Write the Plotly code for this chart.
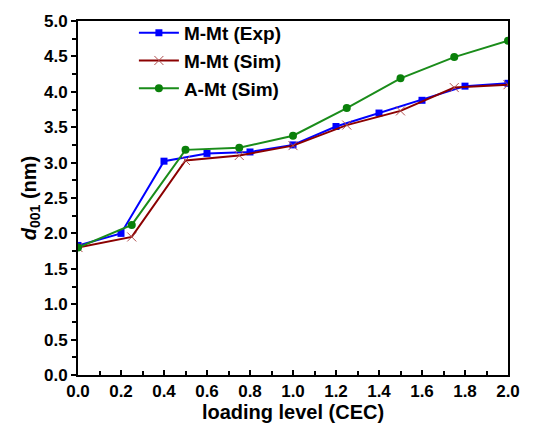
import plotly.graph_objects as go

x_exp = [0.0, 0.2, 0.4, 0.6, 0.8, 1.0, 1.2, 1.4, 1.6, 1.8, 2.0]
y_exp = [1.83, 2.0, 3.02, 3.13, 3.15, 3.25, 3.51, 3.70, 3.88, 4.08, 4.12]

x_sim = [0.0, 0.25, 0.5, 0.75, 1.0, 1.25, 1.5, 1.75, 2.0]
y_mmt_sim = [1.80, 1.95, 3.03, 3.10, 3.24, 3.53, 3.73, 4.06, 4.10]
y_amt_sim = [1.80, 2.12, 3.18, 3.21, 3.38, 3.77, 4.19, 4.49, 4.72]

names = ["M-Mt (Exp)", "M-Mt (Sim)", "A-Mt (Sim)"]
xticks = [0.0, 0.2, 0.4, 0.6, 0.8, 1.0, 1.2, 1.4, 1.6, 1.8, 2.0]
yticks = [0.0, 0.5, 1.0, 1.5, 2.0, 2.5, 3.0, 3.5, 4.0, 4.5, 5.0]

fig = go.Figure()
fig.add_trace(go.Scatter(x=x_exp, y=y_exp, name=f"<b>{names[0]}</b>", mode="lines+markers",
                         line=dict(color="#0000ff", width=2),
                         marker=dict(symbol="square", size=7, color="#0000ff")))
fig.add_trace(go.Scatter(x=x_sim, y=y_mmt_sim, name=f"<b>{names[1]}</b>", mode="lines+markers",
                         line=dict(color="#8b0000", width=2),
                         marker=dict(symbol="x-thin", size=9, color="#b05050",
                                     line=dict(width=1, color="#b05050"))))
fig.add_trace(go.Scatter(x=x_sim, y=y_amt_sim, name=f"<b>{names[2]}</b>", mode="lines+markers",
                         line=dict(color="#1a8c1a", width=2),
                         marker=dict(symbol="circle", size=8, color="#0a800a")))

font = "Liberation Sans, Arial, sans-serif"
fig.update_layout(
    width=545, height=437,
    margin=dict(l=78, r=37, t=12, b=62),
    paper_bgcolor="white", plot_bgcolor="white",
    font=dict(family=font, size=17, color="black"),
    showlegend=True,
    legend=dict(x=0.13, y=1.02, xanchor="left", yanchor="top",
                bgcolor="rgba(0,0,0,0)", font=dict(size=19, family=font),
                tracegroupgap=0, itemwidth=40),
)
fig.update_xaxes(
    range=[0, 2.0], tickvals=xticks, ticktext=[f"<b>{v:.1f}</b>" for v in xticks],
    ticks="inside", ticklen=5, tickwidth=2, tickcolor="black",
    minor=dict(dtick=0.1, ticks="inside", ticklen=4, tickwidth=2, tickcolor="black"),
    showline=True, linewidth=2, linecolor="black", mirror=True,
    showgrid=False, zeroline=False,
    title=dict(text="<b>loading level (CEC)</b>", font=dict(size=20), standoff=4),
)
fig.update_yaxes(
    range=[0, 5.0], tickvals=yticks, ticktext=[f"<b>{v:.1f}</b>" for v in yticks],
    ticks="outside", ticklen=5, tickwidth=2, tickcolor="black",
    minor=dict(dtick=0.25, ticks="outside", ticklen=4, tickwidth=2, tickcolor="black"),
    showline=True, linewidth=2, linecolor="black", mirror=True,
    showgrid=False, zeroline=False,
    title=dict(text="<b><i>d</i><sub>001</sub> (nm)</b>", font=dict(size=20), standoff=2),
)

fig.write_html("out.html")
